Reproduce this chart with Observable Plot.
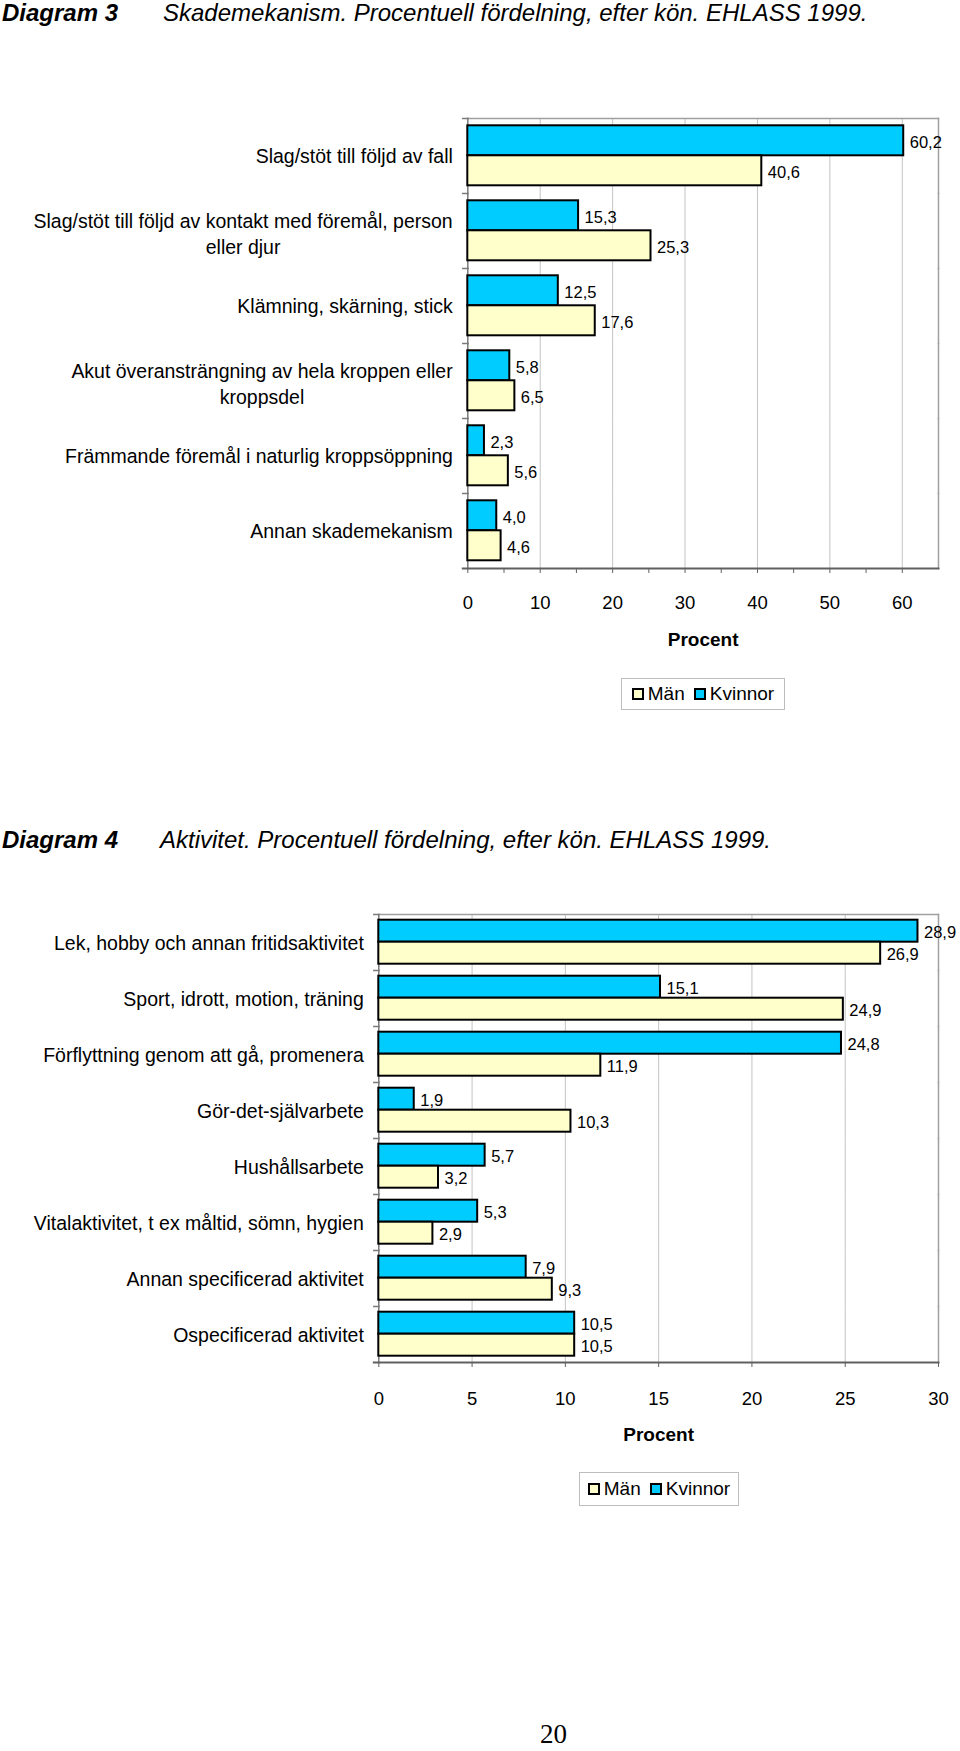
<!DOCTYPE html>
<html><head><meta charset="utf-8">
<script src="https://cdn.jsdelivr.net/npm/d3@7"></script>
<script src="https://cdn.jsdelivr.net/npm/@observablehq/plot@0.6"></script>
<style>
body{margin:0;background:#fff;}
#page{position:relative;width:960px;height:1751px;overflow:hidden;font-family:Arial,"Liberation Sans",sans-serif;color:#000;background:#fff;}
.t{position:absolute;font-size:24px;line-height:28px;white-space:nowrap;font-style:italic;}
.t.b{font-weight:bold;}
.legend{position:absolute;border:1px solid #bdbdbd;box-sizing:border-box;display:flex;align-items:center;justify-content:center;font-size:19px;background:#fff;}
.sw{width:12px;height:12px;border:2px solid #000;box-sizing:border-box;margin-right:4px;}
.gap{width:9px;}
.pg{position:absolute;font-family:"Liberation Serif","Times New Roman",serif;font-size:27px;line-height:27px;}
.chart{position:absolute;left:0;}
</style></head><body><div id="page">
<div class="t b" style="left:2px;top:-1px">Diagram 3</div>
<div class="t" style="left:163px;top:-1px">Skademekanism. Procentuell fördelning, efter kön. EHLASS 1999.</div>
<div id="c3" class="chart" style="top:90px"></div>
<div id="l3" class="legend" style="left:621px;top:678px;width:164px;height:32px"></div>
<div class="t b" style="left:2px;top:825.5px">Diagram 4</div>
<div class="t" style="left:160px;top:825.5px">Aktivitet. Procentuell fördelning, efter kön. EHLASS 1999.</div>
<div id="c4" class="chart" style="top:880px"></div>
<div id="l4" class="legend" style="left:579px;top:1472px;width:160px;height:34px"></div>
<div class="pg" style="left:540px;top:1721px">20</div>
</div>
<script>
// ---- data ----
const series = ["Kvinnor", "Män"];
const seriesColors = ["#00CCFF", "#FFFFCC"];
const legendOrder = ["Män", "Kvinnor"];

const cats3 = [
  "Slag/stöt till följd av fall",
  "Slag/stöt till följd av kontakt med föremål, person eller djur",
  "Klämning, skärning, stick",
  "Akut överansträngning av hela kroppen eller kroppsdel",
  "Främmande föremål i naturlig kroppsöppning",
  "Annan skademekanism"
];
const kvinnor3 = [60.2, 15.3, 12.5, 5.8, 2.3, 4.0];
const man3 = [40.6, 25.3, 17.6, 6.5, 5.6, 4.6];
const ticks3 = [0, 10, 20, 30, 40, 50, 60];
const minor3 = [5, 15, 25, 35, 45, 55];
const max3 = 65;

const cats4 = [
  "Lek, hobby och annan fritidsaktivitet",
  "Sport, idrott, motion, träning",
  "Förflyttning genom att gå, promenera",
  "Gör-det-självarbete",
  "Hushållsarbete",
  "Vitalaktivitet, t ex måltid, sömn, hygien",
  "Annan specificerad aktivitet",
  "Ospecificerad aktivitet"
];
const kvinnor4 = [28.9, 15.1, 24.8, 1.9, 5.7, 5.3, 7.9, 10.5];
const man4 = [26.9, 24.9, 11.9, 10.3, 3.2, 2.9, 9.3, 10.5];
const ticks4 = [0, 5, 10, 15, 20, 25, 30];
const max4 = 30;

const axisTitle = "Procent";

// ---- helpers ----
const FONT = 'Arial, "Liberation Sans", sans-serif';
const ctx = document.createElement("canvas").getContext("2d");
function measure(s, px) { ctx.font = `${px}px ${FONT}`; return ctx.measureText(s).width; }
function wrap(s, px, maxW) {
  const words = s.split(" "); const lines = []; let cur = "";
  for (const w of words) {
    const t = cur ? cur + " " + w : w;
    if (cur && measure(t, px) > maxW) { lines.push(cur); cur = w; } else cur = t;
  }
  if (cur) lines.push(cur);
  return lines;
}
const fmt = v => v.toFixed(1).replace(".", ",");

function chart(o) {
  const W = 960, mr = 22;
  const plotW = W - o.ml - mr;
  const LF = 19.5;
  const data = o.cats.flatMap((c, i) => [
    {cat: c, sex: series[0], value: o.kv[i]},
    {cat: c, sex: series[1], value: o.mn[i]}
  ]);
  const single = [], multi = [];
  o.cats.forEach(c => { const lines = wrap(c, LF, 430); (lines.length > 1 ? multi : single).push({cat: c, lines}); });
  const labelMarks = [
    Plot.text(single, {fy: "cat", frameAnchor: "left", text: d => d.lines[0], textAnchor: "end", dx: -15, dy: 1, fontSize: LF}),
    ...multi.map(d => Plot.text([d], {
      fy: "cat", frameAnchor: "left", text: e => e.lines.join("\n"), textAnchor: "middle", lineHeight: 1.33, dy: 2,
      dx: -(15 + Math.max(...d.lines.map(l => measure(l, LF))) / 2), fontSize: LF
    }))
  ];
  const marks = [
    Plot.gridX(o.ticks.slice(1), {stroke: "#c4c4c4", strokeOpacity: 1, strokeWidth: 1}),
    Plot.frame({anchor: "right", stroke: "#a0a0a0", strokeWidth: 1.5}),
    Plot.frame({anchor: "top", facetAnchor: "top", stroke: "#a0a0a0", strokeWidth: 1.5}),
    Plot.frame({anchor: "left", stroke: "#7a7a7a", strokeWidth: 1.5}),
    Plot.frame({anchor: "top", insetLeft: -5, insetRight: plotW, stroke: "#7a7a7a", strokeWidth: 1.5}),
    Plot.barX(data, {x: "value", y: "sex", fy: "cat", fill: "sex", stroke: "#000", strokeWidth: 2, inset: 0}),
    Plot.text(data, {x: "value", y: "sex", fy: "cat", text: d => fmt(d.value), textAnchor: "start", dx: 6, dy: 2, fontSize: 16.5}),
    ...labelMarks,
    Plot.frame({anchor: "bottom", facetAnchor: "bottom", insetLeft: -5, stroke: "#606060", strokeWidth: 2}),
    Plot.axisX(o.ticks, {tickSize: 5, tickPadding: o.tp, fontSize: 18.5, stroke: "#606060", label: null}),
    o.minor ? Plot.axisX(o.minor, {tickSize: 5, tickFormat: () => "", stroke: "#606060", label: null}) : null,
    Plot.text([axisTitle], {text: d => d, frameAnchor: "bottom", facetAnchor: "bottom", lineAnchor: "middle", dy: o.ldy, fontWeight: "bold", fontSize: 19})
  ].filter(Boolean);
  return Plot.plot({
    width: W, height: o.height, marginTop: o.mt, marginBottom: o.mb, marginLeft: o.ml, marginRight: mr,
    style: {fontFamily: FONT, fontSize: "18.5px", color: "#000", background: "transparent", overflow: "visible"},
    x: {domain: [0, o.max], label: null},
    y: {domain: series, axis: null, paddingInner: 0, paddingOuter: 0.23},
    fy: {domain: o.cats, axis: null, padding: 0},
    color: {domain: series, range: seriesColors},
    marks
  });
}

function legend(el) {
  legendOrder.forEach((s, i) => {
    if (i > 0) { const g = document.createElement("div"); g.className = "gap"; el.appendChild(g); }
    const sw = document.createElement("div"); sw.className = "sw";
    sw.style.background = seriesColors[series.indexOf(s)];
    const tx = document.createElement("span"); tx.textContent = s;
    el.appendChild(sw); el.appendChild(tx);
  });
}

document.getElementById("c3").appendChild(chart({
  cats: cats3, kv: kvinnor3, mn: man3, ticks: ticks3, minor: minor3, max: max3,
  ml: 467.3, mt: 25.7, mb: 85, height: 25.7 + 455 + 85, tp: 22.5, ldy: 71
}));
document.getElementById("c4").appendChild(chart({
  cats: cats4, kv: kvinnor4, mn: man4, ticks: ticks4, minor: null, max: max4,
  ml: 378.3, mt: 32.3, mb: 85, height: 32.3 + 452 + 85, tp: 24.5, ldy: 72
}));
legend(document.getElementById("l3"));
legend(document.getElementById("l4"));
</script>
</body></html>
